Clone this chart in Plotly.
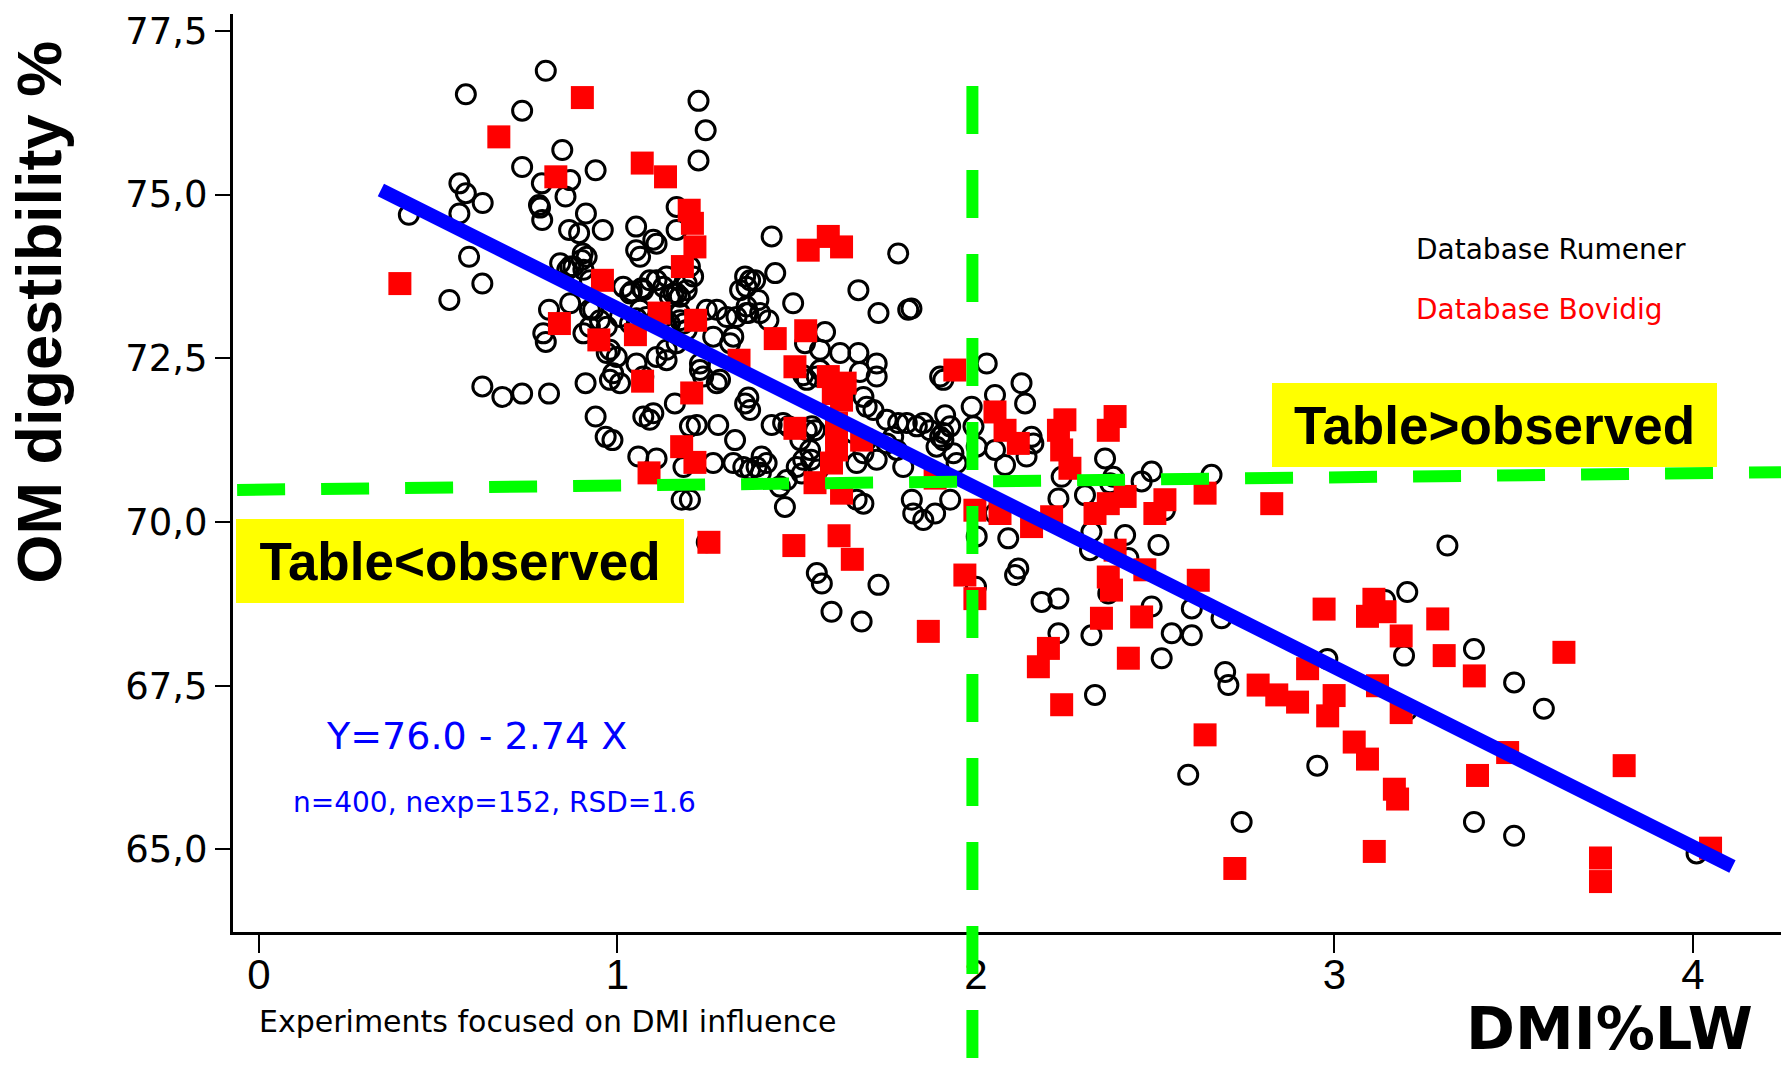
import plotly.graph_objects as go

# ---- Database Rumener (open black circles) ----
rumener_x = [
    0.80, 0.577, 0.734, 0.846, 0.734, 0.939, 0.559, 0.577, 0.624, 0.559, 0.418, 0.789, 0.868, 0.781, 0.784,
    0.855, 0.79, 0.912, 0.865, 0.893, 0.959, 1.052, 0.903, 1.052, 1.10, 1.109, 1.063, 1.165, 1.165, 1.226,
    1.226, 0.586, 0.623, 0.531, 0.84, 0.868, 0.90, 0.905, 0.923, 1.016, 1.035, 1.072, 1.09, 1.128, 1.156,
    1.174, 0.809, 0.868, 0.793, 0.923, 0.951, 0.97, 0.923, 1.007, 1.035, 1.128, 1.137, 1.174, 1.184,
    0.877, 0.86, 0.914, 0.932, 0.905, 1.04, 1.067, 1.109, 1.063, 1.081, 1.053, 1.137, 1.146, 1.165, 1.193,
    1.193, 1.211, 1.202, 1.146, 1.174, 1.193, 1.109, 1.137, 1.165, 1.249, 1.277, 1.305, 1.332, 1.36, 1.356,
    1.36, 1.342, 1.37, 1.267, 1.323, 1.314, 0.979, 0.998, 1.053, 1.23, 1.23, 0.97,
    1.246, 1.43, 1.783, 1.384, 1.44, 1.393, 1.365, 1.421, 1.672, 1.728, 1.811, 1.82, 1.579, 1.49, 1.398,
    0.80, 0.623, 0.679, 0.734, 0.809, 0.911, 0.939, 0.967, 0.986, 0.988, 1.007, 1.072, 0.979, 1.137, 1.16,
    1.072, 1.09, 1.10, 1.058, 1.109, 1.184, 1.179, 1.202,
    1.239, 1.277, 1.286, 1.221, 1.281, 1.328, 1.356, 1.37, 1.365, 1.43, 1.462, 1.477, 1.267, 1.323, 1.351,
    1.388, 1.416, 1.402, 1.202, 1.472, 1.453, 1.467, 1.50, 1.514, 1.537, 1.518, 1.51, 1.528, 1.565, 1.621,
    1.672, 1.723, 1.723, 1.676, 1.556, 1.686, 1.695, 1.714, 1.751, 1.783, 1.807, 1.835, 1.853, 1.872, 1.909,
    1.658, 1.686, 1.667, 1.797, 1.821, 1.825, 1.853, 1.886, 1.928, 1.89, 1.909, 1.937, 1.946, 1.90, 1.909,
    1.914, 1.988, 2.03, 1.686, 1.667, 2.002, 1.556, 1.57, 1.728, 1.597, 1.681, 2.0, 1.249,
    1.36, 1.523, 1.565, 1.528, 1.518, 1.542, 1.551, 1.90, 1.928, 1.769, 1.751, 1.779, 1.695, 1.723, 1.993,
    2.002, 1.54, 1.56, 1.40, 1.37,
    2.127, 2.137, 2.053, 2.155, 2.16, 2.053, 2.081, 2.141, 2.239, 2.23, 2.304, 2.36, 2.383, 2.374, 2.462,
    2.49, 2.657, 2.527, 2.053, 2.09, 2.322, 2.318, 2.416, 2.509, 2.425, 2.118, 2.109, 2.183, 2.23, 2.369,
    2.49, 2.602, 2.685, 2.23, 2.322, 2.546, 2.602,
    2.332, 2.518, 2.695, 2.704, 2.592, 2.741,
    3.315, 3.203, 3.141, 2.98, 3.194, 3.389, 3.501, 3.584, 3.203, 2.952, 3.389, 3.501, 4.01,
]
rumener_y = [
    76.89, 76.53, 76.28, 75.68, 75.42, 75.37, 75.17, 75.02, 74.87, 74.71, 74.69, 75.17, 75.22, 74.84, 74.80,
    74.97, 74.61, 74.71, 74.46, 74.41, 74.46, 74.51, 74.10, 74.15, 74.31, 74.25, 74.05, 74.81, 74.46, 76.43,
    75.52, 74.05, 73.64, 73.39, 73.95, 73.90, 74.00, 73.85, 73.69, 73.59, 73.49, 73.54, 73.69, 73.59, 73.49,
    73.44, 73.24, 73.34, 72.88, 73.24, 73.08, 72.98, 72.98, 73.13, 73.03, 73.13, 72.98, 73.19, 73.03,
    73.90, 73.85, 74.05, 73.24, 72.88, 73.52, 73.57, 73.69, 73.24, 73.13, 73.11, 73.75, 73.44, 73.49, 73.54,
    73.64, 73.75, 73.90, 73.03, 73.08, 72.93, 72.52, 72.63, 72.73, 73.24, 73.24, 73.13, 73.13, 73.19, 73.75,
    73.59, 73.54, 73.69, 72.83, 72.83, 72.73, 72.63, 72.52, 72.42, 72.42, 72.32, 72.58,
    75.98, 74.36, 74.10, 73.69, 73.80, 73.39, 73.19, 73.08, 73.54, 73.19, 73.24, 73.26, 72.90, 73.34, 73.19,
    72.75, 72.07, 71.91, 71.96, 71.96, 72.12, 71.61, 71.30, 71.25, 72.27, 72.12, 72.22, 72.17, 72.47, 71.81,
    71.61, 71.56, 71.66, 71.00, 70.97, 70.84, 70.34, 71.46,
    72.22, 72.12, 72.17, 71.48, 71.48, 71.25, 71.81, 71.71, 71.90, 71.48, 71.51, 71.46, 70.90, 70.90, 70.84,
    70.84, 70.90, 71.00, 70.34, 70.64, 70.54, 70.23, 70.84, 70.74, 71.10, 70.95, 71.25, 71.40, 72.63, 72.58,
    72.58, 72.42, 72.22, 72.29, 72.22, 71.91, 71.76, 71.71, 71.56, 71.51, 71.51, 71.46, 71.51, 71.40, 71.36,
    71.36, 71.05, 70.90, 70.84, 70.34, 70.13, 70.03, 70.13, 70.34, 71.15, 71.25, 71.05, 70.90, 72.22, 72.17,
    71.63, 71.76, 72.42, 70.28, 70.34, 69.78, 69.22, 69.06, 69.04, 68.63, 68.48, 69.01, 69.69,
    73.29, 72.73, 72.32, 72.17, 72.24, 71.46, 71.40, 71.30, 71.46, 71.30, 71.20, 71.10, 71.25, 70.95, 71.46,
    71.15, 70.95, 70.80, 70.75, 70.80,
    72.12, 71.81, 71.94, 71.30, 71.20, 71.10, 70.87, 71.00, 70.69, 70.36, 70.41, 70.97, 70.69, 70.59, 70.62,
    70.77, 70.72, 70.18, 70.13, 69.75, 69.85, 69.57, 69.80, 69.65, 69.45, 69.29, 69.19, 68.78, 68.83, 68.91,
    68.71, 68.68, 68.53, 68.30, 68.27, 68.30, 68.27,
    67.36, 67.92, 67.71, 67.51, 66.14, 65.42,
    69.64, 68.93, 68.81, 67.91, 67.96, 68.06, 67.55, 67.15, 67.13, 66.28, 65.42, 65.21, 64.94,
]

# ---- Database Bovidig (red squares) ----
bovidig_x = [
    0.902, 0.669, 0.828, 1.069, 1.134, 0.393, 0.958, 0.838, 0.948, 1.05, 1.116, 1.20, 1.209, 1.216, 1.181,
    1.218, 1.339, 1.07, 1.088, 1.179, 1.207, 1.216,
    1.44, 1.525, 1.495, 1.588, 1.635, 1.602, 1.625, 1.495, 1.611, 1.611, 1.597, 1.681, 1.551, 1.625, 1.886,
    1.941, 1.997, 1.255, 1.492, 1.618, 1.655, 1.969, 1.997, 1.867, 1.532, 1.588, 1.625, 1.611,
    2.053, 2.081, 2.118, 2.248, 2.23, 2.239, 2.262, 2.388, 2.369, 2.067, 2.211, 2.155, 2.369, 2.416, 2.332,
    2.527, 2.499, 2.639, 2.825, 2.388, 2.471, 2.369, 2.378, 2.62, 2.35, 2.462,
    2.202, 2.174, 2.239, 2.425, 2.639, 2.722, 2.787, 2.839,
    2.971, 3.11, 3.092, 3.141, 3.186, 3.288, 3.64, 3.306, 3.39, 2.925, 2.999, 2.981, 2.897, 3.12, 3.186,
    3.483, 3.399, 3.055, 3.092, 3.167, 3.176, 3.111,
    3.808, 3.742, 3.742, 4.049,
]
bovidig_y = [
    76.48, 75.88, 75.27, 75.48, 75.27, 73.64, 73.69, 73.03, 72.78, 72.86, 73.19, 74.76, 74.56, 74.20, 73.90,
    73.08, 72.47, 72.15, 70.75, 71.15, 71.97, 70.91,
    72.80, 72.92, 72.37, 72.22, 72.12, 71.96, 71.86, 71.43, 71.36, 71.10, 70.90, 71.25, 70.60, 70.44, 70.67,
    72.32, 70.18, 69.69, 69.64, 69.79, 69.43, 69.19, 68.83, 68.33, 74.15, 74.36, 74.20, 71.51,
    71.68, 71.40, 71.20, 71.56, 71.40, 71.10, 70.82, 71.61, 71.40, 70.13, 70.08, 69.93, 70.28, 70.39, 70.13,
    70.34, 70.13, 70.44, 70.28, 69.57, 69.27, 69.16, 68.96, 69.11, 68.53, 68.55,
    68.07, 67.79, 67.21, 67.92, 66.75, 64.71, 67.51, 67.36,
    68.67, 68.82, 68.56, 68.63, 68.26, 68.52, 68.01, 67.96, 67.65, 67.76, 67.35, 67.04, 67.25, 67.50, 67.09,
    66.48, 66.13, 66.64, 66.38, 65.92, 65.77, 64.97,
    66.28, 64.87, 64.51, 65.02,
]

# ---- regression line Y = 76.0 - 2.74 X (end points) ----
fit_x = [0.34, 4.11]
fit_y = [75.07, 64.74]

# ---- threshold (green dashed) lines ----
h_line_x = [-0.061, 4.2455]
h_line_y = [70.49, 70.76]
v_line_x = 1.99

x_ticks = [0, 1, 2, 3, 4]
y_ticks = [65.0, 67.5, 70.0, 72.5, 75.0, 77.5]
y_tick_text = ["65,0", "67,5", "70,0", "72,5", "75,0", "77,5"]

fig = go.Figure()
fig.add_trace(go.Scatter(
    x=rumener_x, y=rumener_y, mode="markers", name="Database Rumener",
    marker=dict(symbol="circle-open", size=19, color="black", line=dict(width=3, color="black")),
))
fig.add_trace(go.Scatter(
    x=bovidig_x, y=bovidig_y, mode="markers", name="Database Bovidig",
    marker=dict(symbol="square", size=23, color="#FF0000", line=dict(width=0)),
))
fig.add_trace(go.Scatter(
    x=fit_x, y=fit_y, mode="lines", name="fit",
    line=dict(color="#0000FF", width=14),
))

green = "#00FF00"
fig.add_shape(type="line", xref="x", yref="y",
              x0=h_line_x[0], y0=h_line_y[0], x1=h_line_x[1], y1=h_line_y[1],
              line=dict(color=green, width=12, dash="48px,36px"), layer="above")
fig.add_shape(type="line", xref="x", yref="paper",
              x0=v_line_x, y0=0.9216, x1=v_line_x, y1=-0.16,
              line=dict(color=green, width=12, dash="48px,36px"), layer="above")

txt = "DejaVu Sans"
ann = [
    dict(text="Database Rumener", x=0.7629, y=0.744, xanchor="left", yanchor="middle",
         font=dict(family=txt, size=28, color="black")),
    dict(text="Database Bovidig", x=0.7629, y=0.6786, xanchor="left", yanchor="middle",
         font=dict(family=txt, size=28, color="#FF0000")),
    dict(text="<b>Table>observed</b>", x=0.8146, y=0.5523, xanchor="center", yanchor="middle",
         width=443, height=82, bgcolor="#FFFF00", borderpad=0, borderwidth=1, bordercolor="#FFFF00",
         font=dict(family="Liberation Sans", size=53, color="black")),
    dict(text="<b>Table<observed</b>", x=0.1466, y=0.4041, xanchor="center", yanchor="middle",
         width=446, height=82, bgcolor="#FFFF00", borderpad=0, borderwidth=1, bordercolor="#FFFF00",
         font=dict(family="Liberation Sans", size=53, color="black")),
    dict(text="Y=76.0 - 2.74 X", x=0.1576, y=0.2135, xanchor="center", yanchor="middle",
         font=dict(family=txt, size=38, color="#0000FF")),
    dict(text="n=400, nexp=152, RSD=1.6", x=0.169, y=0.1416, xanchor="center", yanchor="middle",
         font=dict(family=txt, size=28, color="#0000FF")),
    dict(text="Experiments focused on DMI influence", x=0.0155, y=-0.097, xanchor="left", yanchor="middle",
         font=dict(family=txt, size=30, color="black")),
    dict(text="<b>DMI%LW</b>", x=0.8895, y=-0.1449, xanchor="center", yanchor="bottom",
         font=dict(family=txt, size=59, color="black")),
    dict(text="<b>OM digestibility %</b>", x=-0.1253, y=0.675, xanchor="center", yanchor="middle",
         textangle=-90, font=dict(family="Liberation Sans", size=63, color="black")),
]
for a in ann:
    a.update(xref="paper", yref="paper", showarrow=False)

fig.update_layout(
    width=1781, height=1065,
    margin=dict(l=233, r=0, t=14, b=133),
    paper_bgcolor="white", plot_bgcolor="white",
    showlegend=False,
    annotations=ann,
    xaxis=dict(range=[-0.0725, 4.2455], tickvals=x_ticks, ticktext=[str(v) for v in x_ticks],
               showgrid=False, zeroline=False, showline=True, linecolor="black", linewidth=3,
               ticks="outside", ticklen=18, tickwidth=2, tickcolor="black",
               tickfont=dict(family="Liberation Sans", size=42, color="black"),
               ticklabelstandoff=-14),
    yaxis=dict(range=[63.74, 77.756], tickvals=y_ticks, ticktext=y_tick_text,
               showgrid=False, zeroline=False, showline=True, linecolor="black", linewidth=3,
               ticks="outside", ticklen=15, tickwidth=2, tickcolor="black",
               tickfont=dict(family=txt, size=37, color="black")),
)

fig.write_html("out.html")
